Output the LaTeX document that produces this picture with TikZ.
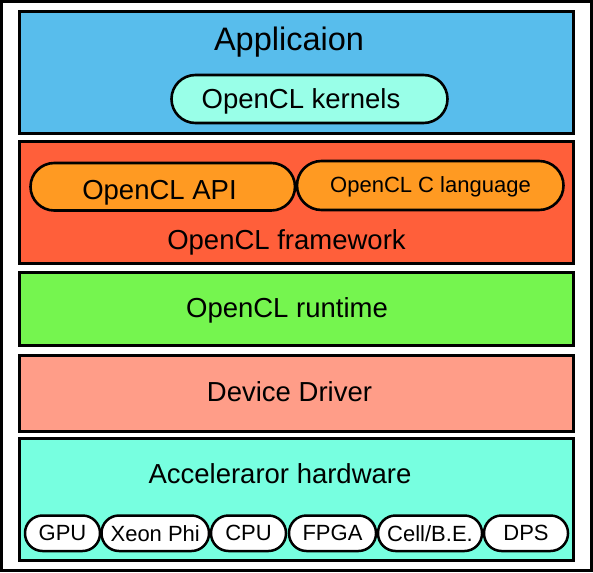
\documentclass[tikz,border=0pt]{standalone}
\usepackage{fontspec}
\setmainfont{Liberation Sans}
\definecolor{appblue}{HTML}{58BDEC}
\definecolor{kernaqua}{HTML}{99FFE8}
\definecolor{fwred}{HTML}{FF5F3A}
\definecolor{pillorange}{HTML}{FF9A22}
\definecolor{rtgreen}{HTML}{75F54F}
\definecolor{drvsalmon}{HTML}{FF9D88}
\definecolor{hwaqua}{HTML}{77FFE0}
\begin{document}
\begin{tikzpicture}[x=1pt,y=-1pt,
  layer/.style={draw=black, line width=3pt, minimum width=554pt, inner sep=0pt},
  pill/.style={draw=black, line width=2.6pt, rounded corners=#1, inner sep=0pt},
  bigtxt/.style={anchor=base, inner sep=0pt, font=\fontsize{27.5}{30}\selectfont},
  smalltxt/.style={anchor=base, inner sep=0pt, font=\fontsize{22}{26}\selectfont},
  hwpill/.style={draw=black, line width=2.5pt, fill=white, rounded corners=17.5pt, minimum height=35.5pt, inner sep=0pt, font=\fontsize{22}{26}\selectfont}
]
\useasboundingbox (0,0) rectangle (593,572);
\draw[line width=3pt] (1.5,1.5) rectangle (591.5,570);

% layers
\node[layer, fill=appblue, minimum height=122pt] (app) at (296.5,72.5) {};
\node[layer, fill=fwred, minimum height=121.5pt] (fw) at (296.5,202.75) {};
\node[layer, fill=rtgreen, minimum height=73.5pt] (rt) at (296.5,308.75) {};
\node[layer, fill=drvsalmon, minimum height=76.5pt] (drv) at (296.5,393.25) {};
\node[layer, fill=hwaqua, minimum height=122pt] (hw) at (296.5,499.5) {};

% application
\node[anchor=base, inner sep=0pt, font=\fontsize{32.5}{36}\selectfont] (apptxt) at (289,50.5) {Applicaion};
\node[pill=24pt, fill=kernaqua, minimum width=276pt, minimum height=48pt] (kern) at (309.5,99) {};
\node[bigtxt] (kerntxt) at (301,108.3) {OpenCL kernels};

% framework
\node[pill=23.75pt, fill=pillorange, minimum width=264.5pt, minimum height=47.5pt] (api) at (162.75,186.75) {};
\node[pill=24.5pt, fill=pillorange, minimum width=266.5pt, minimum height=49pt] (clc) at (430.25,185.5) {};
\node[bigtxt] (apitxt) at (159.5,199) {OpenCL API};
\node[smalltxt] (clctxt) at (430.5,192.7) {OpenCL C language};
\node[bigtxt] (fwtxt) at (286.5,249.3) {OpenCL framework};

% runtime, driver
\node[bigtxt] (rttxt) at (287,317.3) {OpenCL runtime};
\node[bigtxt] (drvtxt) at (289.5,401.7) {Device Driver};

% hardware
\node[bigtxt] (hwtxt) at (280,483.3) {Acceleraror hardware};
\node[hwpill, minimum width=75pt] (gpu) at (62.5,533.25) {GPU};
\node[hwpill, minimum width=107.5pt] (xeon) at (155.25,533.25) {Xeon Phi};
\node[hwpill, minimum width=75pt] (cpu) at (248.5,533.25) {CPU};
\node[hwpill, minimum width=87pt] (fpga) at (332.5,533.25) {FPGA};
\node[hwpill, minimum width=104pt] (cell) at (430,533.25) {Cell/B.E.};
\node[hwpill, minimum width=84pt] (dps) at (526,533.25) {DPS};
\end{tikzpicture}
\end{document}
